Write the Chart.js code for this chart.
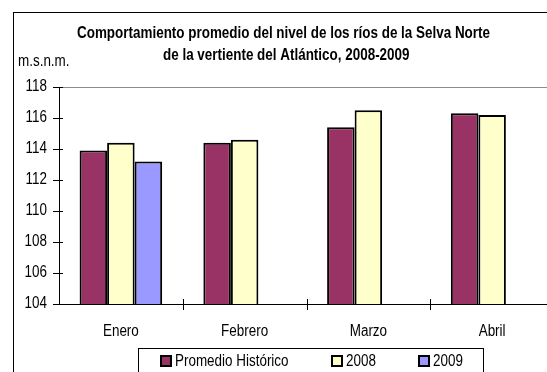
<!DOCTYPE html>
<html>
<head>
<meta charset="utf-8">
<script src="https://cdn.jsdelivr.net/npm/chart.js@4/dist/chart.umd.min.js"></script>
<style>
  body { margin: 0; background: #fff; }
  #wrap { width: 547px; height: 372px; overflow: hidden; }
</style>
</head>
<body>
<div id="wrap"><canvas id="nivelChart" width="600" height="372"></canvas></div>
<script>
const FONT = "'Liberation Sans', Arial, sans-serif";
const NARROW = 0.84; // horizontal squeeze, gives an Arial Narrow look

// data
const meses = ["Enero", "Febrero", "Marzo", "Abril"];
const promedioHistorico = [113.9, 114.4, 115.4, 116.3];
const nivel2008 = [114.4, 114.6, 116.5, 116.2];
const nivel2009 = [113.2, null, null, null];
const titulo = [
  "Comportamiento promedio del nivel de los ríos de la Selva Norte",
  "de la vertiente del Atlántico, 2008-2009",
];
const unidad = "m.s.n.m.";

function narrowText(c, text, x, y) {
  c.save();
  c.translate(x, y);
  c.scale(NARROW, 1);
  c.fillText(text, 0, 0);
  c.restore();
}

// frame, title, unit label, axis labels, crossing tick marks and the boxed legend
const decoPlugin = {
  id: "deco",
  beforeDraw(chart) {
    const c = chart.ctx;
    c.save();
    c.strokeStyle = "#000";
    c.lineWidth = 1;
    c.strokeRect(13.5, 12.5, 640, 400);
    // top edge of the plot area
    c.strokeStyle = "#8c8c8c";
    c.beginPath();
    c.moveTo(chart.chartArea.left, chart.chartArea.top + 0.5);
    c.lineTo(chart.chartArea.right, chart.chartArea.top + 0.5);
    c.stroke();
    c.restore();
  },
  afterDraw(chart) {
    const c = chart.ctx;
    const { left, right, bottom } = chart.chartArea;
    const x = chart.scales.x, y = chart.scales.y;
    c.save();
    c.fillStyle = "#000";
    c.textBaseline = "middle";
    c.textAlign = "left";

    c.font = "bold 16px " + FONT;
    narrowText(c, titulo[0], 77, 34);
    narrowText(c, titulo[1], 163, 56);

    c.font = "16px " + FONT;
    narrowText(c, unidad, 18, 62);

    // axis labels
    c.textAlign = "right";
    y.ticks.forEach(t => narrowText(c, String(t.value), left - 12, y.getPixelForValue(t.value)));
    c.textAlign = "center";
    meses.forEach((m, i) => narrowText(c, m, x.getPixelForValue(i), 332));

    // tick marks across both axes
    c.strokeStyle = "#000";
    c.lineWidth = 1;
    c.beginPath();
    y.ticks.forEach(t => {
      const py = Math.round(y.getPixelForValue(t.value)) + 0.5;
      c.moveTo(left - 6, py);
      c.lineTo(left + 4, py);
    });
    const step = (right - left) / meses.length;
    for (let i = 1; i <= meses.length; i++) {
      const px = Math.round(left + i * step) + 0.5;
      c.moveTo(px, bottom - 5);
      c.lineTo(px, bottom + 6);
    }
    c.stroke();

    // legend box
    c.strokeRect(138.5, 348.5, 345, 40);
    const items = [160, 331, 418];
    c.textAlign = "left";
    chart.data.datasets.forEach((ds, i) => {
      const sx = items[i];
      c.fillStyle = ds.backgroundColor;
      c.fillRect(sx, 355, 12, 12);
      c.lineWidth = 2;
      c.strokeRect(sx + 1, 356, 10, 10);
      c.fillStyle = "#000";
      narrowText(c, ds.label, sx + 15, 362);
    });
    c.restore();
  },
};

const ctx = document.getElementById("nivelChart").getContext("2d");

const nivelChart = new Chart(ctx, {
  type: "bar",
  data: {
    labels: meses,
    datasets: [
      { label: "Promedio Histórico", data: promedioHistorico, backgroundColor: "#993366" },
      { label: "2008", data: nivel2008, backgroundColor: "#FFFFCC" },
      { label: "2009", data: nivel2009, backgroundColor: "#9999FF" },
    ],
  },
  options: {
    responsive: false,
    animation: false,
    layout: { padding: { left: 0, right: 46, top: 87, bottom: 0 } },
    datasets: {
      bar: {
        borderColor: "#000",
        borderWidth: 2,
        categoryPercentage: 0.667,
        barPercentage: 1.0,
      },
    },
    plugins: {
      legend: { display: false },
      title: { display: false },
      tooltip: { enabled: false },
    },
    scales: {
      x: {
        grid: { display: false, drawTicks: false },
        border: { display: true, color: "#000", width: 1 },
        ticks: { display: false },
        afterFit(scale) { scale.height = 68; },
      },
      y: {
        min: 104,
        max: 118,
        grid: { display: false, drawTicks: false },
        border: { display: true, color: "#000", width: 1 },
        ticks: { display: false, stepSize: 2 },
        afterFit(scale) { scale.width = 59; },
      },
    },
  },
  plugins: [decoPlugin],
});
</script>
</body>
</html>
